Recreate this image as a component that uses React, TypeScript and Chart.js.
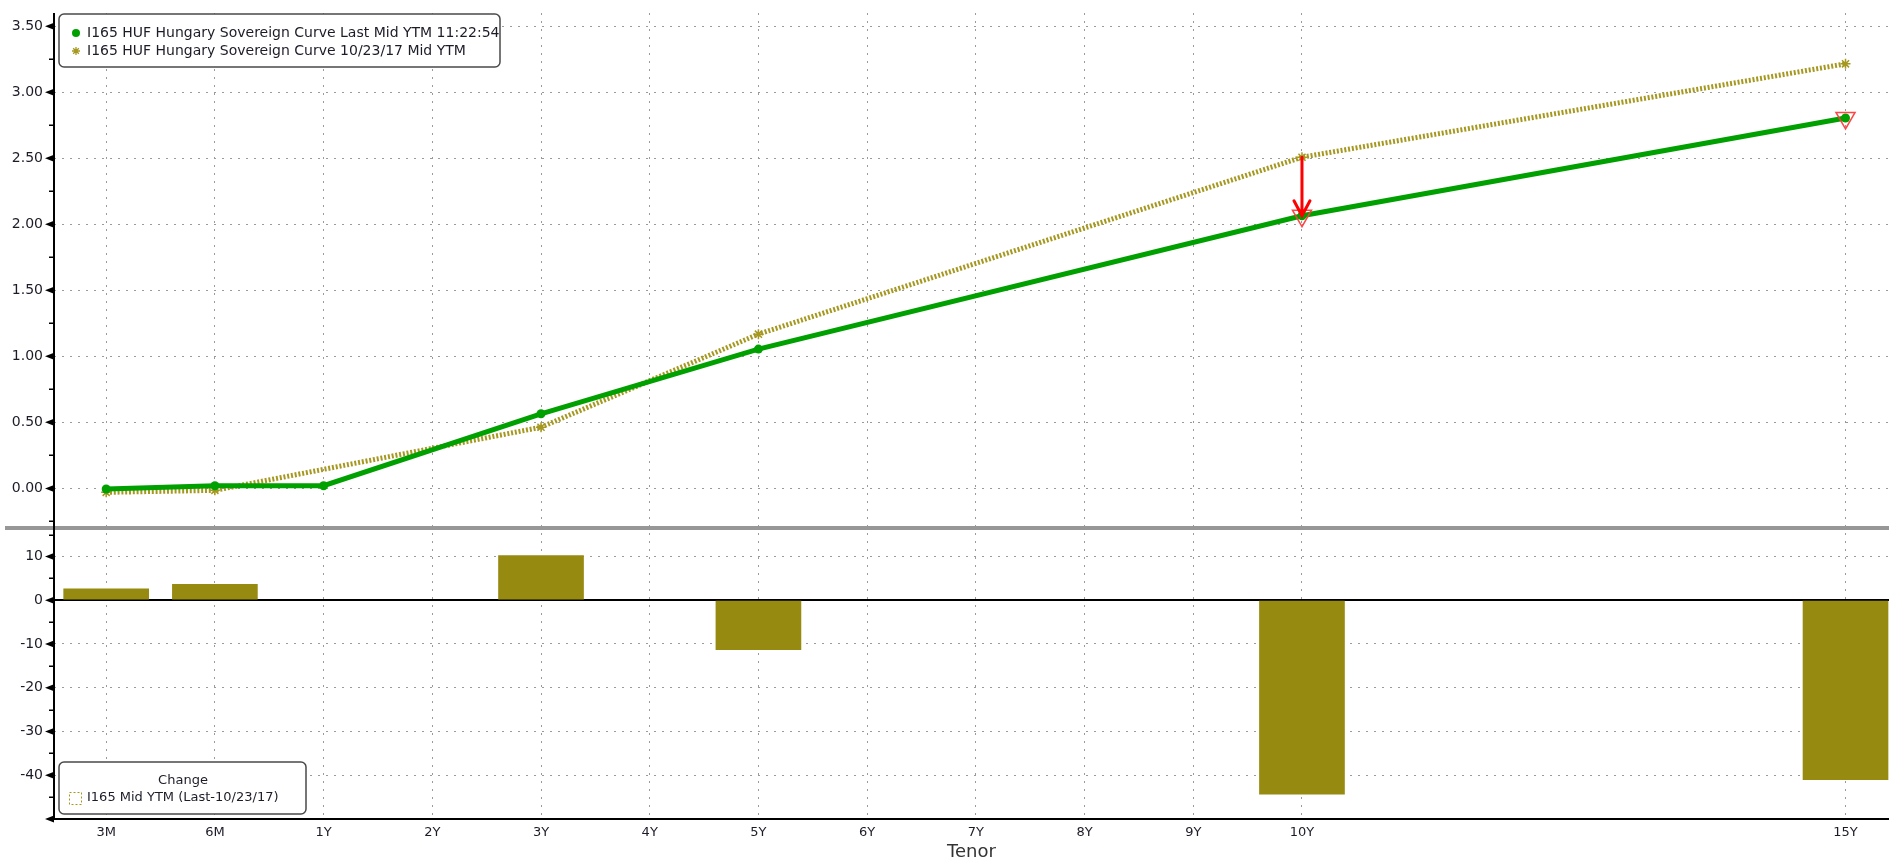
import React, { useEffect, useRef } from 'react';
import { Chart, registerables } from 'chart.js';

Chart.register(...registerables);

// ---- data ----
const tenors = ['3M', '6M', '1Y', '2Y', '3Y', '4Y', '5Y', '6Y', '7Y', '8Y', '9Y', '10Y', '11Y', '12Y', '13Y', '14Y', '15Y'];
const axisTenors = ['3M', '6M', '1Y', '2Y', '3Y', '4Y', '5Y', '6Y', '7Y', '8Y', '9Y', '10Y', '15Y'];

const lastTenors = ['3M', '6M', '1Y', '3Y', '5Y', '10Y', '15Y'];
const lastYield = [-0.005, 0.02, 0.02, 0.565, 1.055, 2.065, 2.805];

const prevTenors = ['3M', '6M', '3Y', '5Y', '10Y', '15Y'];
const prevYield = [-0.03, -0.015, 0.463, 1.168, 2.508, 3.215];

const changeTenors = ['3M', '6M', '3Y', '5Y', '10Y', '15Y'];
const changeBp = [2.6, 3.6, 10.2, -11.3, -44.3, -41.0];

const flaggedTenors = ['10Y', '15Y'];
const arrowTenor = '10Y';

const lastLabel = 'I165 HUF Hungary Sovereign Curve Last Mid YTM 11:22:54';
const prevLabel = 'I165 HUF Hungary Sovereign Curve 10/23/17 Mid YTM';
const changeTitle = 'Change';
const changeLabel = 'I165 Mid YTM (Last-10/23/17)';
const axisTitle = 'Tenor';

// ---- styles ----
const FONT = '"DejaVu Sans", "Noto Sans", sans-serif';
const GREEN = '#00a000';
const GOLD = '#a6981f';
const BAR = '#968a10';
const GRID = '#9a9a9a';
const TEXT = '#1c1c28';

const slot = (t: string) => tenors.indexOf(t);
const axisSlots = axisTenors.map(slot);

function roundRect(ctx: CanvasRenderingContext2D, x: number, y: number, w: number, h: number, r: number) {
  ctx.beginPath();
  ctx.moveTo(x + r, y);
  ctx.lineTo(x + w - r, y);
  ctx.arcTo(x + w, y, x + w, y + r, r);
  ctx.lineTo(x + w, y + h - r);
  ctx.arcTo(x + w, y + h, x + w - r, y + h, r);
  ctx.lineTo(x + r, y + h);
  ctx.arcTo(x, y + h, x, y + h - r, r);
  ctx.lineTo(x, y + r);
  ctx.arcTo(x, y, x + r, y, r);
  ctx.closePath();
}

function asterisk(ctx: CanvasRenderingContext2D, x: number, y: number, r: number, color: string) {
  ctx.save();
  ctx.strokeStyle = color;
  ctx.lineWidth = 1.3;
  ctx.beginPath();
  for (let i = 0; i < 4; i++) {
    const a = (Math.PI / 4) * i;
    ctx.moveTo(x - Math.cos(a) * r, y - Math.sin(a) * r);
    ctx.lineTo(x + Math.cos(a) * r, y + Math.sin(a) * r);
  }
  ctx.stroke();
  ctx.restore();
}

const decor = {
  id: 'decor',
  afterDatasetsDraw(chart: any) {
    const ctx: CanvasRenderingContext2D = chart.ctx;
    const xs = chart.scales.x;
    const ys = chart.scales.y;
    const i0 = prevTenors.indexOf(arrowTenor);
    const i1 = lastTenors.indexOf(arrowTenor);
    if (i0 < 0 || i1 < 0) return;
    const px = xs.getPixelForValue(slot(arrowTenor));
    const yFrom = ys.getPixelForValue(prevYield[i0]);
    const yTo = ys.getPixelForValue(lastYield[i1]);
    ctx.save();
    ctx.strokeStyle = '#ff0000';
    ctx.lineWidth = 3;
    ctx.lineCap = 'round';
    ctx.beginPath();
    ctx.moveTo(px, yFrom);
    ctx.lineTo(px, yTo - 1);
    ctx.moveTo(px - 8, yTo - 15);
    ctx.lineTo(px, yTo);
    ctx.lineTo(px + 8, yTo - 15);
    ctx.stroke();
    ctx.restore();
  },
  afterDraw(chart: any) {
    const ctx: CanvasRenderingContext2D = chart.ctx;
    const area = chart.chartArea;
    const ys = chart.scales.y;
    const y2 = chart.scales.y2;
    const upper = ys.top < y2.top ? ys : y2;
    const boundary = upper.bottom;
    ctx.save();
    // separator between panels
    ctx.fillStyle = '#979797';
    ctx.fillRect(5, boundary - 2, chart.width - 5, 4);
    // axis lines
    ctx.strokeStyle = '#000';
    ctx.lineWidth = 2;
    ctx.beginPath();
    ctx.moveTo(area.left, area.top);
    ctx.lineTo(area.left, area.bottom);
    ctx.moveTo(area.left, area.bottom);
    ctx.lineTo(area.right, area.bottom);
    ctx.stroke();
    // y tick marks
    for (const sc of [ys, y2]) {
      const step = sc.options.ticks.stepSize;
      ctx.fillStyle = '#000';
      for (const t of sc.ticks) {
        const py = sc.getPixelForValue(t.value);
        ctx.beginPath();
        ctx.moveTo(area.left - 9, py);
        ctx.lineTo(area.left, py - 3.5);
        ctx.lineTo(area.left, py + 3.5);
        ctx.closePath();
        ctx.fill();
      }
      const first = Math.ceil(sc.min / step) * step;
      ctx.lineWidth = 1.5;
      ctx.beginPath();
      for (let v = first - step / 2; v <= sc.max; v += step) {
        if (v < sc.min) continue;
        const py = Math.round(sc.getPixelForValue(v)) + 0.25;
        ctx.moveTo(area.left - 5, py);
        ctx.lineTo(area.left, py);
      }
      ctx.stroke();
    }

    // top legend
    ctx.fillStyle = '#fff';
    ctx.strokeStyle = '#4a4a4a';
    ctx.lineWidth = 1.5;
    roundRect(ctx, 59, 14, 441, 53, 5);
    ctx.fill();
    ctx.stroke();
    ctx.font = `14px ${FONT}`;
    ctx.textBaseline = 'middle';
    ctx.textAlign = 'left';
    ctx.fillStyle = TEXT;
    ctx.fillText(chart.data.datasets[0].label, 87, 33);
    ctx.fillText(chart.data.datasets[1].label, 87, 51);
    ctx.fillStyle = GREEN;
    ctx.beginPath();
    ctx.arc(76, 33, 4, 0, Math.PI * 2);
    ctx.fill();
    asterisk(ctx, 76, 51, 4, GOLD);

    // bottom legend
    ctx.fillStyle = '#fff';
    ctx.strokeStyle = '#4a4a4a';
    ctx.lineWidth = 1.5;
    roundRect(ctx, 59, 762, 247, 52, 5);
    ctx.fill();
    ctx.stroke();
    ctx.font = `13px ${FONT}`;
    ctx.fillStyle = TEXT;
    ctx.textAlign = 'center';
    ctx.fillText(changeTitle, 183, 781);
    ctx.textAlign = 'left';
    ctx.fillText(changeLabel, 87, 798);
    ctx.strokeStyle = GOLD;
    ctx.lineWidth = 1;
    ctx.setLineDash([2, 2]);
    ctx.strokeRect(69.5, 792.5, 12, 12);
    ctx.setLineDash([]);
    ctx.restore();
  },
};

export default function App() {
  const ref = useRef<HTMLCanvasElement | null>(null);

  useEffect(() => {
    document.body.style.margin = '0';
    if (!ref.current) return;
    const dotted = [2, 6];
    const xFont = { family: FONT, size: 13 };
    const yFont = { family: FONT, size: 14 };
    const fitY = (s: any) => {
      s.width = 54;
      s.paddingTop = 0;
      s.paddingBottom = 0;
    };
    const chart = new Chart(ref.current, {
      type: 'line',
      data: {
        datasets: [
          {
            type: 'line',
            label: lastLabel,
            data: lastTenors.map((t, i) => ({ x: slot(t), y: lastYield[i] })),
            yAxisID: 'y',
            borderColor: GREEN,
            backgroundColor: GREEN,
            borderWidth: 5,
            pointRadius: 4.5,
            pointBackgroundColor: GREEN,
            pointBorderWidth: 0,
            tension: 0,
            order: 1,
          },
          {
            type: 'line',
            label: prevLabel,
            data: prevTenors.map((t, i) => ({ x: slot(t), y: prevYield[i] })),
            yAxisID: 'y',
            borderColor: GOLD,
            backgroundColor: GOLD,
            borderWidth: 5,
            borderDash: [2, 1.8],
            pointStyle: 'star',
            pointRadius: 5,
            pointBorderColor: GOLD,
            pointBorderWidth: 1.5,
            tension: 0,
            order: 2,
          },
          {
            type: 'line',
            label: 'flag',
            data: flaggedTenors.map((t) => ({ x: slot(t), y: lastYield[lastTenors.indexOf(t)] })),
            yAxisID: 'y',
            showLine: false,
            pointStyle: 'triangle',
            pointRotation: 180,
            pointRadius: 11,
            pointBorderColor: 'rgba(255,60,60,0.95)',
            pointBackgroundColor: 'rgba(0,0,0,0)',
            pointBorderWidth: 1.5,
            order: 0,
          },
          {
            type: 'bar',
            label: changeLabel,
            data: changeTenors.map((t, i) => ({ x: slot(t), y: changeBp[i] })),
            yAxisID: 'y2',
            backgroundColor: BAR,
            borderWidth: 0,
            barThickness: 85,
            order: 3,
          },
        ] as any,
      },
      options: {
        animation: false,
        responsive: false,
        devicePixelRatio: 1,
        layout: { autoPadding: false, padding: { top: 13, left: 0, right: 0, bottom: 0 } },
        plugins: { legend: { display: false }, tooltip: { enabled: false } },
        scales: {
          x: {
            type: 'linear',
            offset: false,
            min: -0.48,
            max: 16.4,
            afterBuildTicks: (s: any) => {
              s.ticks = axisSlots.map((v) => ({ value: v }));
            },
            afterFit: (s: any) => {
              s.height = 42;
              s.paddingLeft = 0;
              s.paddingRight = 0;
            },
            ticks: {
              callback: (v: any) => tenors[Math.round(Number(v))],
              autoSkip: false,
              maxRotation: 0,
              padding: 6,
              color: TEXT,
              font: xFont,
            },
            grid: {
              color: (c: any) => (c.tick && axisSlots.includes(Math.round(c.tick.value)) ? GRID : 'rgba(0,0,0,0)'),
              lineWidth: 1,
              drawTicks: false,
              offset: false,
            },
            border: { display: false, dash: dotted },
            title: {
              display: true,
              text: axisTitle,
              color: '#333',
              padding: { top: 0, bottom: -2 },
              font: { family: FONT, size: 18 },
            },
          },
          y2: {
            type: 'linear',
            position: 'left',
            stack: 'panels',
            stackWeight: 291,
            min: -50,
            max: 16.5,
            afterFit: fitY,
            ticks: {
              stepSize: 10,
              includeBounds: false,
              callback: (v: any) => (Number(v) === -50 ? '' : String(v)),
              padding: 11,
              color: TEXT,
              font: yFont,
            },
            grid: {
              color: (c: any) => (c.tick && c.tick.value === 0 ? '#000' : GRID),
              lineWidth: (c: any) => (c.tick && c.tick.value === 0 ? 2 : 1),
              drawTicks: false,
            },
            border: { display: false, dash: (c: any) => (c.tick && c.tick.value === 0 ? [] : dotted) },
          },
          y: {
            type: 'linear',
            position: 'left',
            stack: 'panels',
            stackWeight: 515,
            min: -0.3,
            max: 3.6,
            afterFit: fitY,
            ticks: {
              stepSize: 0.5,
              includeBounds: false,
              callback: (v: any) => Number(v).toFixed(2),
              padding: 11,
              color: TEXT,
              font: yFont,
            },
            grid: { color: GRID, lineWidth: 1, drawTicks: false },
            border: { display: false, dash: dotted },
          },
        },
      } as any,
      plugins: [decor],
    });
    return () => chart.destroy();
  }, []);

  return (
    <div style={{ position: 'absolute', left: 0, top: 0, width: 1889, height: 861, background: '#fff' }}>
      <canvas ref={ref} width={1889} height={861} style={{ display: 'block' }} />
    </div>
  );
}
